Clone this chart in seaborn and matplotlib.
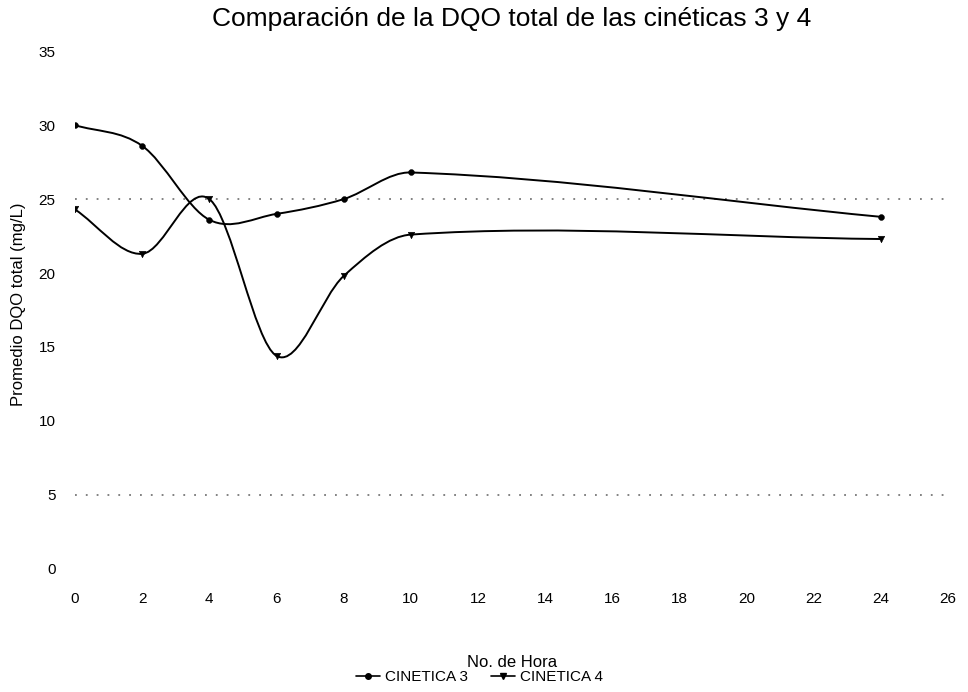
import matplotlib
matplotlib.use("Agg")
import matplotlib.pyplot as plt
import seaborn as sns
from matplotlib.path import Path
from matplotlib.patches import PathPatch
from matplotlib.lines import Line2D

# Datos
horas = [0, 2, 4, 6, 8, 10, 24]
cinetica3 = [30.0, 28.6, 23.6, 24.0, 25.0, 26.8, 23.8]
cinetica4 = [24.3, 21.3, 25.0, 14.4, 19.8, 22.6, 22.3]
y_ticks = [0, 5, 10, 15, 20, 25, 30, 35]
x_ticks = list(range(0, 27, 2))
grid_visible = [5, 25]

sns.set_style("white")
plt.rcParams['font.family'] = ['Liberation Sans', 'DejaVu Sans']
plt.rcParams['text.color'] = 'black'
plt.rcParams['xtick.color'] = 'black'
plt.rcParams['ytick.color'] = 'black'


def smooth_path(xs, ys):
    # curva suavizada (Bezier) con pendientes centradas, valida con x no uniforme
    n = len(xs)
    slopes = []
    for i in range(n):
        a = max(i - 1, 0)
        b = min(i + 1, n - 1)
        slopes.append((ys[b] - ys[a]) / (xs[b] - xs[a]))
    verts = [(xs[0], ys[0])]
    codes = [Path.MOVETO]
    for i in range(n - 1):
        h = (xs[i + 1] - xs[i]) / 3
        verts += [(xs[i] + h, ys[i] + slopes[i] * h),
                  (xs[i + 1] - h, ys[i + 1] - slopes[i + 1] * h),
                  (xs[i + 1], ys[i + 1])]
        codes += [Path.CURVE4] * 3
    return Path(verts, codes)


fig = plt.figure(figsize=(9.68, 6.92), dpi=100)
ax = fig.add_axes([0.0775, 0.178, 0.902, 0.748])

for yv in grid_visible:
    ax.axhline(yv, color='#777777', linestyle=(0, (1, 5)), linewidth=1.3, zorder=0)

for serie, mk, ms in [(cinetica3, 'o', 18), (cinetica4, 'v', 22)]:
    ax.add_patch(PathPatch(smooth_path(horas, serie), facecolor='none',
                           edgecolor='black', linewidth=1.4))
    sns.scatterplot(x=horas, y=serie, marker=mk, s=ms, color='black',
                    edgecolor='black', ax=ax, zorder=3)

ax.set_xlim(0, 26)
ax.set_ylim(0, 35)
ax.set_xticks(x_ticks)
ax.set_yticks(y_ticks)
ax.tick_params(axis='both', length=0, labelsize=11)
ax.tick_params(axis='y', pad=14)
ax.tick_params(axis='x', pad=17)
sns.despine(ax=ax, left=True, bottom=True)

fig.text(0.529, 0.972, 'Comparación de la DQO total de las cinéticas 3 y 4',
         ha='center', va='center', fontsize=19)
fig.text(0.529, 0.043, 'No. de Hora', ha='center', va='center', fontsize=12)
fig.text(0.019, 0.56, 'Promedio DQO total (mg/L)', ha='center', va='center',
         rotation=90, fontsize=12)

handles = [
    Line2D([], [], color='black', marker='o', markersize=4, linewidth=1.2),
    Line2D([], [], color='black', marker='v', markersize=4, linewidth=1.2),
]
fig.legend(handles, ['CINETICA 3', 'CINETICA 4'], loc='center',
           bbox_to_anchor=(0.495, 0.021), ncol=2, frameon=False, fontsize=11,
           handlelength=1.6, handletextpad=0.3, columnspacing=1.5)

fig.savefig('out.png', dpi=100)
